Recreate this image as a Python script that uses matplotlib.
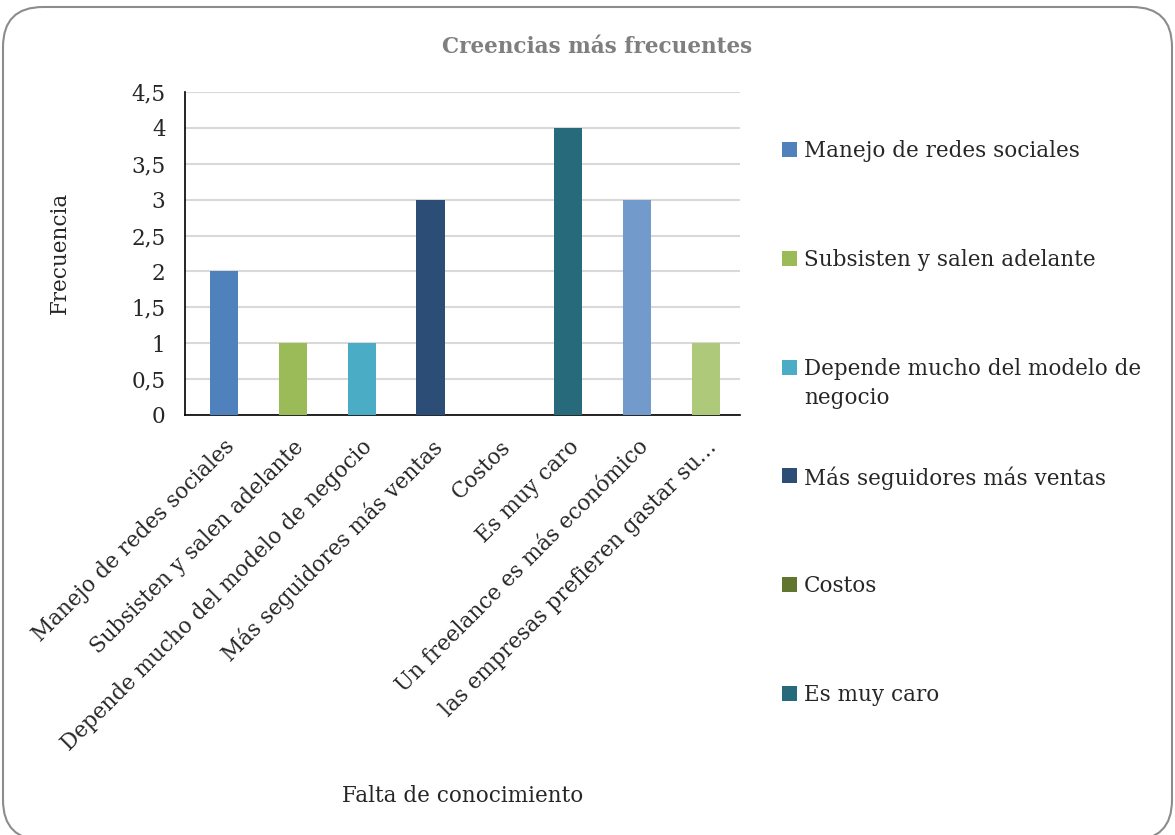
import matplotlib
matplotlib.use("Agg")
import matplotlib.pyplot as plt
from matplotlib.patches import FancyBboxPatch, Rectangle

categories = [
    "Manejo de redes sociales",
    "Subsisten y salen adelante",
    "Depende mucho del modelo de negocio",
    "Más seguidores más ventas",
    "Costos",
    "Es muy caro",
    "Un freelance es más económico",
    "las empresas prefieren gastar su…",
]
values = [2, 1, 1, 3, 0, 4, 3, 1]
colors = ["#4F81BD", "#9BBB59", "#4BACC6", "#2C4D75",
          "#5F7530", "#276A7C", "#729ACA", "#AFC97A"]
legend_labels = [
    "Manejo de redes sociales",
    "Subsisten y salen adelante",
    "Depende mucho del modelo de\nnegocio",
    "Más seguidores más ventas",
    "Costos",
    "Es muy caro",
]
yticks = [0, 0.5, 1, 1.5, 2, 2.5, 3, 3.5, 4, 4.5]
ytick_labels = ["0", "0,5", "1", "1,5", "2", "2,5", "3", "3,5", "4", "4,5"]

plt.rcParams["font.family"] = ["DejaVu Serif"]
txt = "#262626"
fs = 15.5

fig = plt.figure(figsize=(11.75, 8.35), dpi=100)

# rounded frame round the whole chart
frame = FancyBboxPatch((0.03, -0.05), 11.69, 8.33,
                       boxstyle="round,pad=0,rounding_size=0.4",
                       transform=fig.dpi_scale_trans, zorder=-10,
                       facecolor="none", edgecolor="#8C8C8C", linewidth=1.5)
fig.patches.append(frame)

ax = fig.add_axes([0.1574, 0.503, 0.4723, 0.3868])
ax.patch.set_alpha(0)
x = range(len(categories))
ax.bar(x, values, width=0.41, color=colors, zorder=3)

ax.set_xlim(-0.566, 7.494)
ax.set_ylim(0, 4.5)
ax.set_yticks(yticks)
ax.set_yticklabels(ytick_labels, fontsize=fs, color=txt)
ax.set_xticks(list(x))
ax.set_xticklabels(categories, rotation=45, ha="right", rotation_mode="anchor",
                   fontsize=fs, color=txt)
ax.tick_params(axis="y", length=0, pad=14)
ax.tick_params(axis="x", length=0, pad=15)
ax.grid(axis="y", color="#D9D9D9", linewidth=1.5, zorder=0)
for s in ["top", "right"]:
    ax.spines[s].set_visible(False)
ax.spines["left"].set_color("black")
ax.spines["bottom"].set_color("black")
ax.spines["left"].set_linewidth(1.2)
ax.spines["bottom"].set_linewidth(1.2)

fig.text(0.508, 0.944, "Creencias más frecuentes", ha="center", va="center",
         fontsize=fs, fontweight="bold", color="#7F7F7F")
fig.text(0.051, 0.697, "Frecuencia", rotation=90, ha="center", va="center",
         fontsize=fs, color=txt)
fig.text(0.394, 0.047, "Falta de conocimiento", ha="center", va="center",
         fontsize=fs, color=txt)

# legend drawn by hand so rows keep Excel's even spacing
W, H = 1175, 835
for i, lab in enumerate(legend_labels):
    yc = 150 + i * 108.8
    fig.patches.append(Rectangle((782 / W, 1 - (yc + 7) / H), 15 / W, 15 / H,
                                 transform=fig.transFigure,
                                 facecolor=colors[i], edgecolor="none"))
    fig.text(804 / W, 1 - (yc - 10) / H, lab, ha="left", va="top",
             fontsize=fs, color=txt, linespacing=1.45)

fig.savefig("out.png", dpi=100)
